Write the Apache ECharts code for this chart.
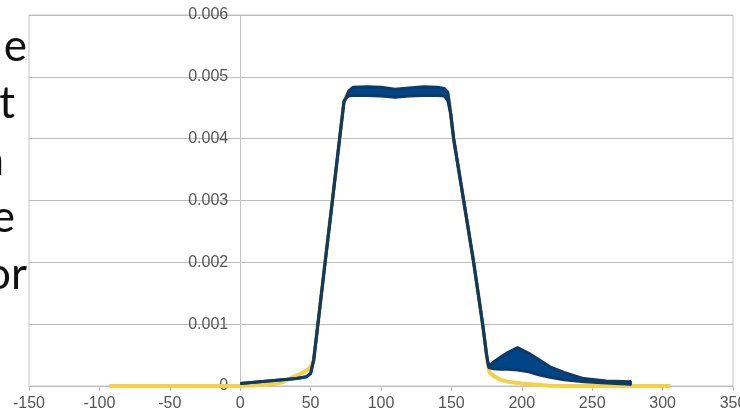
<!DOCTYPE html>
<html>
<head>
<meta charset="utf-8">
<script src="https://cdn.jsdelivr.net/npm/echarts@6/dist/echarts.min.js"></script>
<style>
html,body{margin:0;padding:0;background:#fff;}
#chart{width:740px;height:414px;}
</style>
</head>
<body>
<div id="chart"></div>
<script>
// Tick labels
const xTicks = [-150, -100, -50, 0, 50, 100, 150, 200, 250, 300, 350];
const yTicks = [0, 0.001, 0.002, 0.003, 0.004, 0.005, 0.006];

// Cropped slide text fragments on the left
const sideText = ['e', 't', 'n', 'e', 'or'];

// Yellow series
const yellowX = [-93, -50, 0, 20, 30, 38, 45, 50, 52.2, 55.2, 60.3, 65.5, 70.6, 73.7, 76, 80, 100, 120, 140, 146, 148.5, 151.6, 158.7, 165.8, 172.2, 175.5, 177, 180, 185, 190, 200, 210, 220, 230, 305.7];
const yellowY = [0, 0, 0, 0.00002, 0.00006, 0.00015, 0.00022, 0.0003, 0.00042, 0.001, 0.002, 0.003, 0.004, 0.0046, 0.00472, 0.00476, 0.00476, 0.00475, 0.00476, 0.00472, 0.0046, 0.004, 0.003, 0.002, 0.001, 0.0004, 0.00022, 0.00016, 0.0001, 0.00007, 0.00004, 0.00002, 0.000005, 0, 0];

// Blue series: lower and upper edge of the noisy band
const blueX = [0, 10, 20, 30, 40, 47, 50, 52.2, 55.2, 60.3, 65.5, 70.6, 73.7, 75.5, 77, 80, 90, 100, 110, 120, 130, 140, 145, 147.5, 149.5, 151.6, 158.7, 165.8, 172.2, 175, 176.5, 180, 185, 190, 197, 205, 212, 220, 230, 244, 260, 277, 278];
const blueLow = [0.00004, 0.00006, 0.00008, 0.0001, 0.00012, 0.00015, 0.0002, 0.00042, 0.001, 0.002, 0.003, 0.004, 0.0046, 0.00466, 0.00469, 0.0047, 0.0047, 0.00469, 0.00467, 0.00469, 0.0047, 0.0047, 0.00469, 0.00461, 0.0044, 0.004, 0.003, 0.002, 0.001, 0.0005, 0.0003, 0.00028, 0.00027, 0.00027, 0.00026, 0.00023, 0.00018, 0.00014, 0.0001, 0.00007, 0.00005, 0.00003, 0.00002];
const blueHigh = [0.00004, 0.00006, 0.00008, 0.0001, 0.00012, 0.00015, 0.0002, 0.00042, 0.001, 0.002, 0.003, 0.004, 0.0046, 0.00468, 0.00477, 0.00483, 0.00484, 0.00483, 0.0048, 0.00482, 0.00484, 0.00483, 0.00481, 0.00475, 0.0044, 0.004, 0.003, 0.002, 0.001, 0.0005, 0.00032, 0.00039, 0.00047, 0.00054, 0.00062, 0.00053, 0.00043, 0.00031, 0.00022, 0.00012, 0.00008, 0.00007, 0.00008];

const chart = echarts.init(document.getElementById('chart'), null, {renderer: 'canvas'});

const textY = [47, 104, 161, 218, 275];
const textRight = [27, 15, 4, 15, 27];

const lineColor = '#0d3a68';
const bandColor = '#004586';

const gridLeft = 29, gridRight = 7;
const plotW = 740 - gridLeft - gridRight;
const yAxisOffset = -plotW * (0 - xTicks[0]) / (xTicks[xTicks.length - 1] - xTicks[0]);

const option = {
  backgroundColor: '#ffffff',
  animation: false,
  grid: {left: gridLeft, right: gridRight, top: 15, bottom: 28, outerBoundsMode: 'none', containLabel: false,
    show: true, borderColor: '#c4c4c4', borderWidth: 1, backgroundColor: 'transparent'},
  xAxis: {
    type: 'value', min: xTicks[0], max: xTicks[xTicks.length - 1], interval: 50,
    axisLine: {show: true, onZero: true, lineStyle: {color: '#bdbdbd', width: 1}},
    axisTick: {show: true, length: 5, lineStyle: {color: '#bdbdbd'}},
    splitLine: {show: false},
    axisLabel: {color: '#555', fontFamily: 'Liberation Sans', fontSize: 16, margin: 10}
  },
  yAxis: {
    type: 'value', min: yTicks[0], max: yTicks[yTicks.length - 1], interval: 0.001,
    offset: yAxisOffset,
    axisLine: {show: true, onZero: false, lineStyle: {color: '#c4c4c4', width: 1}},
    axisTick: {show: false},
    splitLine: {show: true, lineStyle: {color: '#bdbdbd', width: 1}},
    axisLabel: {color: '#555', fontFamily: 'Liberation Sans', fontSize: 16, margin: 12,
      formatter: v => (Math.abs(v) < 1e-9 ? '0' : v.toFixed(3))}
  },
  graphic: sideText.map((t, i) => ({
    type: 'text', x: textRight[i], y: textY[i],
    style: {text: t, fill: '#111', font: '44px Lato', align: 'right', verticalAlign: 'middle'}
  })),
  series: [
    {
      name: 'yellow', type: 'line', z: 2, showSymbol: false, symbol: 'none',
      data: yellowX.map((x, i) => [x, yellowY[i]]),
      lineStyle: {color: '#f5d245', width: 4}
    },
    {
      name: 'blueBand', type: 'custom', z: 3, clip: true,
      data: [[0, 0]],
      renderItem: (params, api) => {
        const pts = [];
        for (let i = 0; i < blueX.length; i++) pts.push(api.coord([blueX[i], blueHigh[i]]));
        for (let i = blueX.length - 1; i >= 0; i--) pts.push(api.coord([blueX[i], blueLow[i]]));
        return {type: 'polygon', shape: {points: pts}, style: {fill: bandColor, stroke: null}};
      }
    },
    {
      name: 'blueLow', type: 'line', z: 4, showSymbol: false, symbol: 'none',
      data: blueX.map((x, i) => [x, blueLow[i]]),
      lineStyle: {color: lineColor, width: 3}
    },
    {
      name: 'blueHigh', type: 'line', z: 4, showSymbol: false, symbol: 'none',
      data: blueX.map((x, i) => [x, blueHigh[i]]),
      lineStyle: {color: lineColor, width: 3}
    }
  ]
};
chart.setOption(option);
</script>
</body>
</html>
